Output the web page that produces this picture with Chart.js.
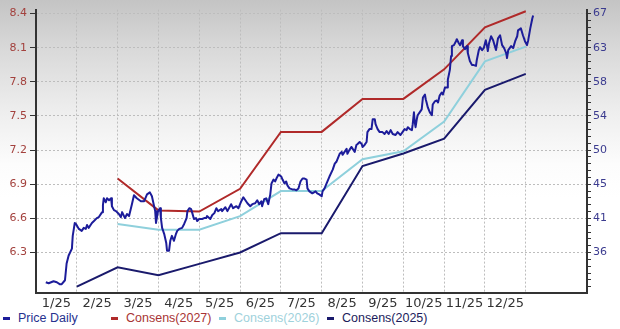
<!DOCTYPE html>
<html>
<head>
<meta charset="utf-8">
<script src="https://cdn.jsdelivr.net/npm/chart.js@4.4.1/dist/chart.umd.min.js"></script>
<style>
  html, body { margin: 0; padding: 0; }
  body {
    width: 620px; height: 329px; overflow: hidden; position: relative;
    background: linear-gradient(to bottom, #c4c4c4 0%, #d9d9d9 15%, #efefef 35%, #fcfcfc 50%, #fff 60%);
  }
  #chart { position: absolute; left: 0; top: 0; }
  #legend {
    position: absolute; left: 3px; top: 311px; height: 18px; line-height: 18px;
    font: 12.5px "Liberation Sans", Arial, sans-serif; white-space: nowrap;
  }
  .item { display: inline-block; width: 108px; }
  .dash { display: inline-block; width: 7px; height: 3px; vertical-align: middle; margin-right: 8px; }
</style>
</head>
<body>
<canvas id="chart" width="620" height="311"></canvas>
<div id="legend"></div>
<script>
// month axis: 0 = start of Jan 2025, gridlines at month ends
const monthLabels = ['1/25', '2/25', '3/25', '4/25', '5/25', '6/25', '7/25', '8/25', '9/25', '10/25', '11/25', '12/25'];
const xTickMonths = [0, 1, 2, 3, 4, 5, 6, 7, 8, 9, 10, 11, 12];

// EPS consensus (left axis)
const leftTicks = [6.3, 6.6, 6.9, 7.2, 7.5, 7.8, 8.1, 8.4];
const consMonths = [1, 2, 3, 4, 5, 6, 7, 8, 9, 10, 11, 12];
const cons2027 = [null, 6.95, 6.67, 6.66, 6.86, 7.36, 7.36, 7.65, 7.65, 7.91, 8.28, 8.42];
const cons2026 = [null, 6.55, 6.50, 6.50, 6.62, 6.84, 6.84, 7.12, 7.19, 7.45, 7.98, 8.11];
const cons2025 = [6.00, 6.17, 6.10, 6.20, 6.30, 6.47, 6.47, 7.06, 7.17, 7.30, 7.73, 7.87];

// price (right axis)
const rightTicks = [36.3, 40.72, 45.14, 49.56, 53.98, 58.4, 62.82, 67.24];
const rightTickLabels = ['36', '41', '45', '50', '54', '58', '63', '67'];

const priceMonths = [
  0.24, 0.31, 0.43, 0.51, 0.58, 0.63, 0.71, 0.75, 0.80, 0.88, 0.90, 0.95, 0.98, 1.05, 1.12, 1.17, 1.22, 1.25, 1.29, 1.37,
  1.42, 1.49, 1.54, 1.62, 1.64, 1.66, 1.71, 1.74, 1.79, 1.84, 1.86, 1.91, 1.96, 2.03, 2.08, 2.11, 2.18, 2.23, 2.28, 2.35,
  2.40, 2.47, 2.57, 2.65, 2.72, 2.79, 2.84, 2.92, 2.94, 2.99, 3.04, 3.06, 3.09, 3.14, 3.19, 3.21, 3.26, 3.29, 3.33, 3.38,
  3.43, 3.46, 3.51, 3.58, 3.63, 3.69, 3.71, 3.76, 3.80, 3.83, 3.87, 3.92, 3.95, 4.00, 4.07, 4.12, 4.17, 4.19, 4.27, 4.32,
  4.37, 4.42, 4.46, 4.54, 4.56, 4.64, 4.69, 4.78, 4.83, 4.91, 4.96, 5.03, 5.08, 5.13, 5.18, 5.25, 5.30, 5.37, 5.42, 5.47,
  5.52, 5.54, 5.59, 5.64, 5.69, 5.74, 5.77, 5.82, 5.86, 5.89, 5.94, 6.01, 6.04, 6.09, 6.13, 6.16, 6.21, 6.28, 6.33, 6.38,
  6.43, 6.48, 6.53, 6.58, 6.63, 6.65, 6.70, 6.77, 6.85, 6.89, 6.94, 7.00, 7.02, 7.07, 7.12, 7.19, 7.27, 7.32, 7.36, 7.39,
  7.44, 7.49, 7.51, 7.56, 7.61, 7.63, 7.68, 7.73, 7.76, 7.81, 7.85, 7.88, 7.93, 7.98, 8.00, 8.05, 8.10, 8.12, 8.17, 8.22,
  8.25, 8.30, 8.32, 8.37, 8.42, 8.49, 8.54, 8.59, 8.64, 8.69, 8.74, 8.81, 8.86, 8.93, 8.98, 9.03, 9.08, 9.11, 9.16, 9.21,
  9.23, 9.26, 9.28, 9.30, 9.33, 9.35, 9.40, 9.45, 9.48, 9.53, 9.55, 9.57, 9.60, 9.65, 9.70, 9.72, 9.77, 9.82, 9.85, 9.89,
  9.94, 9.97, 10.02, 10.07, 10.09, 10.14, 10.17, 10.19, 10.24, 10.29, 10.31, 10.36, 10.39, 10.44, 10.46, 10.51, 10.56, 10.58, 10.63, 10.68,
  10.71, 10.78, 10.80, 10.85, 10.88, 10.93, 10.97, 11.02, 11.05, 11.07, 11.10, 11.15, 11.20, 11.27, 11.32, 11.37, 11.42, 11.47, 11.52, 11.54,
  11.57, 11.64, 11.69, 11.74, 11.79, 11.81, 11.88, 11.93, 11.98, 12.03, 12.06, 12.11, 12.16, 12.18
];
const priceValues = [
  32.45, 32.32, 32.58, 32.45, 32.20, 32.20, 32.71, 34.88, 35.91, 36.80, 38.46, 40.13, 40.00, 39.36, 39.10, 39.49, 39.36, 39.87, 39.49, 40.13,
  40.38, 40.76, 40.89, 41.53, 42.43, 43.32, 42.81, 43.32, 43.07, 43.32, 42.30, 41.79, 41.66, 41.28, 40.89, 41.53, 40.76, 41.28, 41.02, 42.56,
  43.71, 43.32, 42.94, 42.94, 43.83, 44.09, 43.58, 41.66, 40.13, 41.66, 42.04, 40.76, 39.49, 38.72, 37.57, 36.54, 36.54, 37.82, 38.46, 37.82,
  38.72, 39.10, 39.36, 39.49, 40.00, 40.76, 41.66, 42.04, 41.92, 41.40, 40.64, 40.76, 40.38, 40.64, 40.64, 40.76, 40.76, 41.02, 40.64, 41.15,
  41.40, 42.04, 41.66, 41.92, 41.66, 42.17, 41.66, 42.56, 42.04, 42.30, 42.04, 42.94, 43.45, 43.07, 42.68, 42.30, 42.56, 42.68, 43.07, 42.56,
  42.94, 42.30, 43.20, 43.32, 42.56, 43.83, 45.24, 45.75, 45.50, 45.88, 46.39, 46.14, 45.75, 45.24, 45.50, 44.99, 44.60, 44.47, 44.47, 44.35,
  44.60, 45.50, 45.88, 45.88, 45.75, 44.60, 44.22, 43.96, 44.22, 43.96, 43.83, 43.58, 44.22, 44.60, 45.24, 46.14, 47.03, 47.80, 48.05, 48.44,
  49.08, 49.33, 48.95, 49.33, 49.72, 49.08, 49.59, 49.97, 49.72, 49.33, 50.23, 50.36, 50.61, 50.36, 49.97, 50.23, 50.61, 51.89, 52.28, 52.28,
  53.56, 53.56, 52.91, 52.28, 51.89, 51.89, 51.64, 52.02, 51.64, 52.15, 51.64, 51.51, 51.89, 51.51, 51.89, 52.28, 52.15, 52.53, 52.28, 52.15,
  52.91, 54.45, 53.17, 52.53, 53.56, 54.07, 54.45, 54.83, 56.37, 56.75, 56.11, 55.73, 55.09, 54.45, 54.07, 55.47, 55.86, 55.98, 55.73, 56.62,
  57.01, 56.75, 57.65, 57.65, 58.67, 59.95, 61.74, 63.02, 63.15, 63.66, 63.91, 63.40, 63.15, 63.79, 63.02, 62.64, 63.02, 62.12, 61.10, 60.59,
  60.59, 60.46, 61.23, 62.51, 62.89, 62.51, 62.76, 63.79, 63.02, 62.38, 63.40, 64.30, 63.79, 62.51, 64.04, 64.43, 63.15, 62.76, 62.12, 61.48,
  62.51, 63.02, 62.76, 63.66, 64.30, 65.07, 65.32, 64.43, 63.66, 63.15, 63.79, 65.32, 66.60, 66.98
];

const legendTextColors = ['#27318f', '#a83434', '#9fd2dc', '#1c1c5c'];

// right axis gets minor ticks, 5 per labelled step
const minorStep = (rightTicks[1] - rightTicks[0]) / 5;
const y1Ticks = [];
for (let j = 5; j >= 1; j--) {
  if (rightTicks[0] - j * minorStep >= 31.06) y1Ticks.push(rightTicks[0] - j * minorStep);
}
rightTicks.forEach((t, i) => {
  y1Ticks.push(t);
  if (i < rightTicks.length - 1) {
    for (let j = 1; j < 5; j++) y1Ticks.push(t + j * minorStep);
  }
});

const gridColor = '#bdbdbd';
const axisColor = '#333';

const chart = new Chart(document.getElementById('chart'), {
  type: 'line',
  data: {
    datasets: [
      {
        label: 'Price Daily',
        data: priceMonths.map((m, i) => ({ x: m, y: priceValues[i] })),
        yAxisID: 'y1',
        borderColor: '#1c1c9a',
        borderWidth: 2,
        pointRadius: 0,
        borderJoinStyle: 'round'
      },
      {
        label: 'Consens(2027)',
        data: consMonths.map((m, i) => ({ x: m, y: cons2027[i] })),
        yAxisID: 'y',
        borderColor: '#b02a2a',
        borderWidth: 2,
        pointRadius: 0
      },
      {
        label: 'Consens(2026)',
        data: consMonths.map((m, i) => ({ x: m, y: cons2026[i] })),
        yAxisID: 'y',
        borderColor: '#8fd0dc',
        borderWidth: 2,
        pointRadius: 0
      },
      {
        label: 'Consens(2025)',
        data: consMonths.map((m, i) => ({ x: m, y: cons2025[i] })),
        yAxisID: 'y',
        borderColor: '#1a1a6c',
        borderWidth: 2,
        pointRadius: 0
      }
    ]
  },
  options: {
    responsive: false,
    animation: false,
    devicePixelRatio: 1,
    layout: { padding: { top: 6 } },
    plugins: { legend: { display: false }, tooltip: { enabled: false } },
    scales: {
      x: {
        type: 'linear',
        min: 0,
        max: 13.5,
        afterBuildTicks: s => { s.ticks = xTickMonths.map(v => ({ value: v })); },
        afterFit: s => { s.height = 18; },
        grid: { color: gridColor, drawTicks: false },
        border: { color: axisColor, width: 2, dash: [2, 2] },
        ticks: {
          callback: (v, i) => monthLabels[i] || '',
          labelOffset: 20.35,
          padding: 3,
          maxRotation: 0,
          autoSkip: false,
          color: '#333',
          font: { family: 'DejaVu Sans', size: 13 }
        }
      },
      y: {
        position: 'left',
        min: 5.944,
        max: 8.435,
        afterBuildTicks: s => { s.ticks = leftTicks.map(v => ({ value: v })); },
        afterFit: s => { s.width = 36; },
        grid: { color: gridColor, tickColor: axisColor, tickLength: 6 },
        border: { color: axisColor, width: 2, dash: [2, 2] },
        ticks: {
          callback: v => v.toFixed(1),
          color: '#a3413d',
          padding: 3,
          font: { family: 'DejaVu Sans', size: 11 }
        }
      },
      y1: {
        position: 'right',
        min: 31.06,
        max: 67.75,
        afterBuildTicks: s => { s.ticks = y1Ticks.map(v => ({ value: v })); },
        afterFit: s => { s.width = 33; },
        grid: { drawOnChartArea: false, tickColor: axisColor, tickLength: 4 },
        border: { color: axisColor, width: 2 },
        ticks: {
          autoSkip: false,
          callback: v => {
            const i = rightTicks.indexOf(v);
            return i < 0 ? '' : rightTickLabels[i];
          },
          color: '#3b3b8f',
          padding: 2,
          font: { family: 'DejaVu Sans', size: 11 }
        }
      }
    }
  }
});

// legend row under the chart
const legendEl = document.getElementById('legend');
chart.data.datasets.forEach((ds, i) => {
  const item = document.createElement('span');
  item.className = 'item';
  const dash = document.createElement('span');
  dash.className = 'dash';
  dash.style.background = ds.borderColor;
  const txt = document.createElement('span');
  txt.textContent = ds.label;
  txt.style.color = legendTextColors[i];
  item.appendChild(dash);
  item.appendChild(txt);
  legendEl.appendChild(item);
});
</script>
</body>
</html>
